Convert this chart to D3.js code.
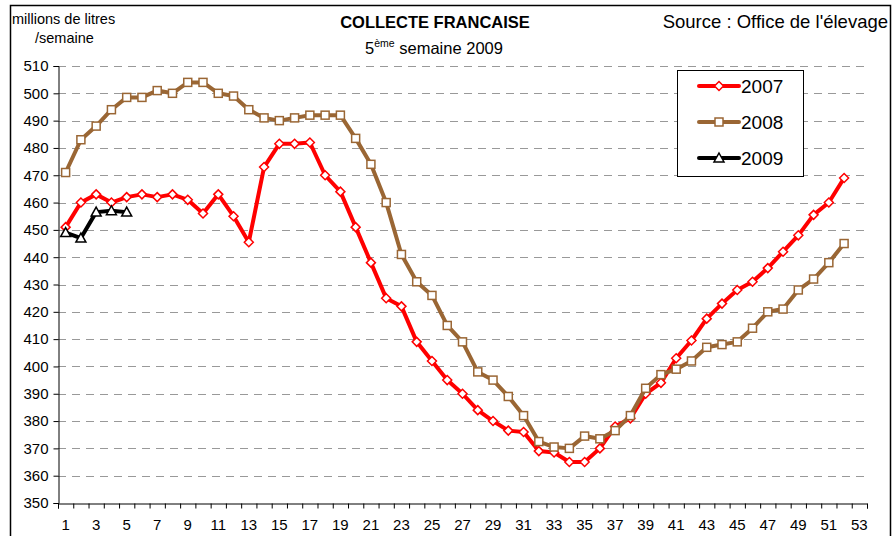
<!DOCTYPE html>
<html>
<head>
<meta charset="utf-8">
<script src="https://cdn.jsdelivr.net/npm/d3@7"></script>
<style>
  body { margin: 0; background: #fff; }
  text { font-family: "Liberation Sans", Arial, sans-serif; fill: #000; }
  .grid line { stroke: #999; stroke-dasharray: 8,6; }
</style>
</head>
<body>
<div id="chart"></div>
<script>
// weeks (categories) and the three yearly series
var weeks = [1,2,3,4,5,6,7,8,9,10,11,12,13,14,15,16,17,18,19,20,21,22,23,24,25,26,27,
             28,29,30,31,32,33,34,35,36,37,38,39,40,41,42,43,44,45,46,47,48,49,50,51,52,53];

var v2007 = [451, 460, 463, 460, 462, 463, 462, 463, 461, 456,
             463, 455, 445.5, 473, 481.5, 481.5, 482, 470, 464, 451,
             438, 425, 422, 409, 402, 395, 390, 384, 380, 376.5,
             376, 369, 368.5, 365, 365, 370, 378, 381, 390, 394,
             403, 409.5, 417.5, 423, 428, 431, 436, 442, 448, 455.5,
             460, 469];

var v2008 = [471, 483, 488, 494, 498.5, 498.5, 501, 500, 504, 504,
             500, 499, 494, 491, 490, 491, 492, 492, 492, 483.5,
             474, 460, 441, 431, 426, 415, 409, 398, 395, 389,
             382, 372.5, 370.5, 370, 374.5, 373.5, 376.5, 382, 392, 397,
             399, 402, 407, 408, 409, 414, 420, 421, 428, 432,
             438, 445];

var v2009 = [449, 447, 456.5, 457, 456.5];

var yTicks = [350,360,370,380,390,400,410,420,430,440,450,460,470,480,490,500,510];
var xLabels = [1,3,5,7,9,11,13,15,17,19,21,23,25,27,29,31,33,35,37,39,41,43,45,47,49,51,53];

var series = [
  {name: "2007", values: v2007, color: "#ff0000", marker: "diamond"},
  {name: "2008", values: v2008, color: "#9a6634", marker: "square"},
  {name: "2009", values: v2009, color: "#000000", marker: "triangle"}
];

var w = 895, h = 536;

var svg = d3.select("#chart")
            .append("svg")
            .attr("width", w)
            .attr("height", h);

// chart frame
svg.append("rect")
   .attr("x", 10.5).attr("y", 5.5)
   .attr("width", 880).attr("height", 540)
   .attr("fill", "none")
   .attr("stroke", "#000")
   .attr("stroke-width", 1.5);

// plot area (note: "top" is reserved on window, so use pTop etc.)
var pLeft = 58, pRight = 867, pTop = 66, pBottom = 503;

var x = d3.scaleLinear().domain([0.5, 53.5]).range([pLeft, pRight]);
var y = d3.scaleLinear().domain([350, 510]).range([pBottom, pTop]);

// dashed gridlines
svg.append("g")
   .attr("class", "grid")
   .selectAll("line")
   .data(yTicks.filter(function(d){ return d > 350; }))
   .enter()
   .append("line")
   .attr("x1", pLeft).attr("x2", pRight)
   .attr("y1", function(d){ return Math.round(y(d)) + 0.5; })
   .attr("y2", function(d){ return Math.round(y(d)) + 0.5; });

// y axis
var yAxis = svg.append("g")
   .attr("transform", "translate(" + (pLeft + 0.5) + ",0)")
   .call(d3.axisLeft(y).tickValues(yTicks).tickSize(5).tickPadding(5));
yAxis.selectAll("text")
     .style("font-size", "15px")
     .style("font-family", "Liberation Sans, Arial, sans-serif");

// x axis: ticks on week boundaries, labels on odd weeks
var boundaries = weeks.map(function(d){ return d - 0.5; }).concat([53.5]);
svg.append("g")
   .attr("transform", "translate(0," + (pBottom + 0.5) + ")")
   .call(d3.axisBottom(x).tickValues(boundaries).tickSize(5).tickFormat(""));

svg.selectAll(".domain, .tick line").attr("stroke", "#000");

svg.append("g")
   .selectAll("text")
   .data(xLabels)
   .enter()
   .append("text")
   .attr("x", function(d){ return x(d); })
   .attr("y", 530)
   .attr("text-anchor", "middle")
   .style("font-size", "15px")
   .text(function(d){ return d; });

// markers
function drawMarker(g, type, color) {
  if (type === "diamond") {
    g.append("path").attr("d", "M0,-4.5L4.5,0L0,4.5L-4.5,0Z")
     .attr("fill", "#fff").attr("stroke", color).attr("stroke-width", 1.5);
  } else if (type === "square") {
    g.append("rect").attr("x", -4).attr("y", -4).attr("width", 8).attr("height", 8)
     .attr("fill", "#fff").attr("stroke", color).attr("stroke-width", 1.5);
  } else {
    g.append("path").attr("d", "M0,-5L5,4L-5,4Z")
     .attr("fill", "#fff").attr("stroke", color).attr("stroke-width", 1.5);
  }
}

var line = d3.line()
             .x(function(d, i){ return x(weeks[i]); })
             .y(function(d){ return y(d); });

series.forEach(function(s){
  var g = svg.append("g");
  g.append("path")
   .attr("d", line(s.values))
   .attr("fill", "none")
   .attr("stroke", s.color)
   .attr("stroke-width", 4)
   .attr("stroke-linejoin", "round");
  s.values.forEach(function(v, i){
    var m = g.append("g").attr("transform", "translate(" + x(weeks[i]) + "," + y(v) + ")");
    drawMarker(m, s.marker, s.color);
  });
});

// legend
var legend = svg.append("g");
legend.append("rect")
      .attr("x", 677.5).attr("y", 70.5)
      .attr("width", 126).attr("height", 106)
      .attr("fill", "#fff").attr("stroke", "#000").attr("stroke-width", 1);
series.forEach(function(s, i){
  var ly = 86 + i * 36;
  legend.append("line")
        .attr("x1", 699).attr("x2", 739)
        .attr("y1", ly).attr("y2", ly)
        .attr("stroke", s.color).attr("stroke-width", 4).attr("stroke-linecap", "round");
  var m = legend.append("g").attr("transform", "translate(719," + ly + ")");
  drawMarker(m, s.marker, s.color);
  legend.append("text")
        .attr("x", 741).attr("y", ly + 7)
        .style("font-size", "19px")
        .text(s.name);
});

// titles
svg.append("text")
   .attr("x", 12).attr("y", 24)
   .style("font-size", "14.5px")
   .text("millions de litres");
svg.append("text")
   .attr("x", 35).attr("y", 43)
   .style("font-size", "14.5px")
   .text("/semaine");

svg.append("text")
   .attr("x", 435).attr("y", 28)
   .attr("text-anchor", "middle")
   .style("font-size", "16.5px")
   .style("font-weight", "bold")
   .text("COLLECTE FRANCAISE");

var sub = svg.append("text")
   .attr("x", 434).attr("y", 54)
   .attr("text-anchor", "middle")
   .style("font-size", "16.5px");
sub.append("tspan").text("5");
sub.append("tspan").attr("dy", -7).style("font-size", "10.5px").text("ème");
sub.append("tspan").attr("dy", 7).text(" semaine 2009");

svg.append("text")
   .attr("x", 888).attr("y", 28)
   .attr("text-anchor", "end")
   .style("font-size", "18.5px")
   .text("Source : Office de l'élevage");
</script>
</body>
</html>
